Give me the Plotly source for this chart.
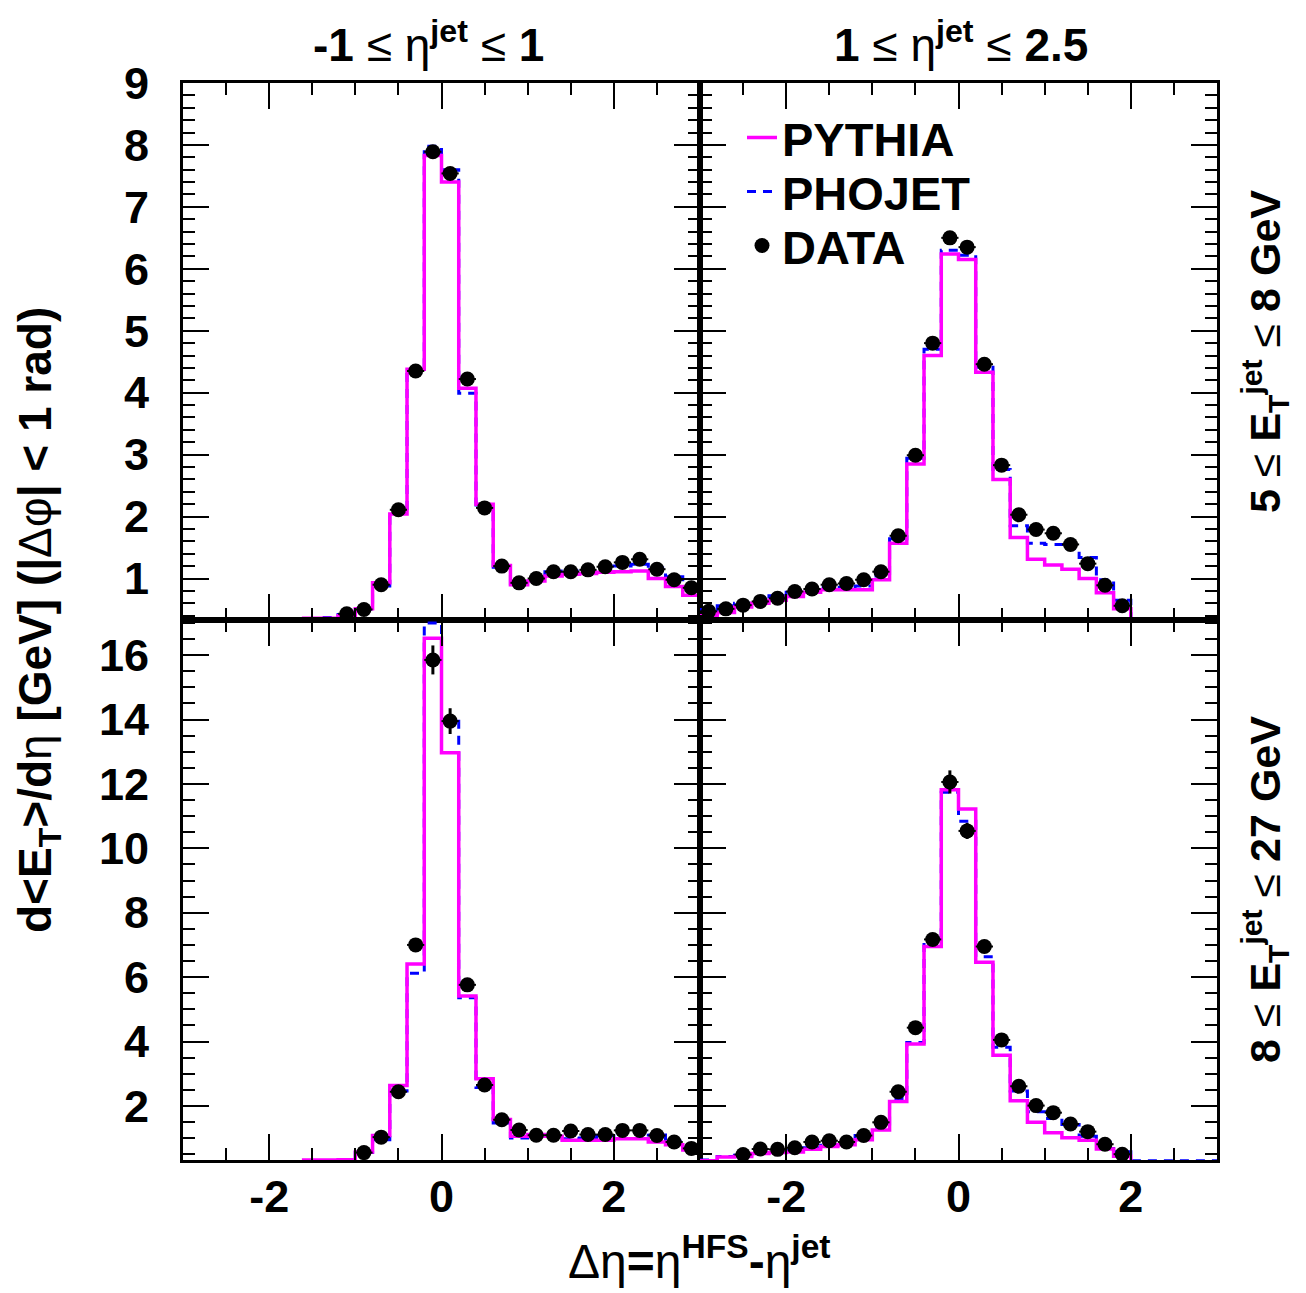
import numpy as np
import plotly.graph_objects as go

# ---------------- data ----------------
# bin edges (30 bins of width 0.2 from -3 to 3) and bin centres
edges = [round(-3.0 + 0.2 * i, 1) for i in range(31)]
centers = [round(-2.9 + 0.2 * i, 1) for i in range(30)]

# top-left: -1 <= eta_jet <= 1, 5 <= ET <= 8 GeV
pythia_tl = [0.3, 0.3, 0.3, 0.3, 0.3, 0.3, 0.3, 0.36, 0.36, 0.40, 0.51, 0.93, 2.04, 4.38, 7.83,
             7.40, 4.07, 2.20, 1.21, 0.90, 0.96, 1.04, 1.07, 1.08, 1.10, 1.11, 1.12, 1.00, 0.87, 0.73]
phojet_tl = [0.3, 0.3, 0.3, 0.3, 0.3, 0.3, 0.3, 0.35, 0.37, 0.42, 0.50, 0.88, 2.08, 4.35, 7.98,
             7.60, 3.99, 2.10, 1.18, 0.92, 0.98, 1.11, 1.12, 1.14, 1.15, 1.20, 1.23, 1.17, 1.03, 0.85]
data_tl = [None, None, None, None, None, None, None, None, None, 0.43, 0.50, 0.90, 2.11, 4.35, 7.89,
           7.54, 4.22, 2.14, 1.20, 0.93, 1.00, 1.11, 1.11, 1.14, 1.19, 1.26, 1.31, 1.15, 0.98, 0.85]
err_tl = [0, 0, 0, 0, 0, 0, 0, 0, 0, 0.03, 0.03, 0.04, 0.05, 0.07, 0.10,
          0.09, 0.07, 0.05, 0.04, 0.03, 0.03, 0.03, 0.03, 0.03, 0.03, 0.04, 0.04, 0.04, 0.03, 0.03]

# top-right: 1 <= eta_jet <= 2.5, 5 <= ET <= 8 GeV
pythia_tr = [0.40, 0.45, 0.54, 0.60, 0.65, 0.71, 0.78, 0.82, 0.82, 0.82, 0.98, 1.57, 2.85, 4.60, 6.24,
             6.15, 4.33, 2.60, 1.66, 1.31, 1.22, 1.15, 1.00, 0.77, 0.51, 0.3, 0.3, 0.3, 0.3, 0.3]
phojet_tr = [0.50, 0.56, 0.60, 0.66, 0.72, 0.78, 0.82, 0.86, 0.86, 0.88, 1.04, 1.64, 2.94, 4.70, 6.30,
             6.22, 4.41, 2.76, 1.85, 1.57, 1.55, 1.48, 1.34, 0.98, 0.65, 0.3, 0.3, 0.3, 0.3, 0.3]
data_tr = [0.47, 0.51, 0.57, 0.63, 0.68, 0.79, 0.83, 0.90, 0.92, 0.98, 1.11, 1.69, 2.99, 4.80, 6.50,
           6.35, 4.46, 2.83, 2.03, 1.79, 1.73, 1.55, 1.24, 0.89, 0.56, None, None, None, None, None]
err_tr = [0.03, 0.03, 0.03, 0.03, 0.03, 0.03, 0.03, 0.03, 0.03, 0.03, 0.04, 0.05, 0.06, 0.08, 0.10,
          0.10, 0.08, 0.06, 0.05, 0.05, 0.05, 0.05, 0.04, 0.04, 0.04, 0, 0, 0, 0, 0]

# bottom-left: -1 <= eta_jet <= 1, 8 <= ET <= 27 GeV
pythia_bl = [0.25, 0.25, 0.25, 0.25, 0.25, 0.25, 0.25, 0.32, 0.32, 0.33, 0.57, 1.08, 2.63, 6.41, 16.52,
             12.97, 5.41, 2.84, 1.58, 1.06, 1.11, 1.06, 0.93, 0.93, 0.93, 0.98, 0.98, 0.88, 0.79, 0.63]
phojet_bl = [0.25, 0.25, 0.25, 0.25, 0.25, 0.25, 0.25, 0.30, 0.30, 0.33, 0.55, 0.95, 2.46, 6.12, 17.0,
             14.0, 5.36, 2.57, 1.47, 1.00, 1.05, 1.10, 0.98, 1.00, 1.08, 1.18, 1.20, 1.10, 0.90, 0.70]
data_bl = [None, None, None, None, None, None, None, None, None, None, 0.55, 1.03, 2.44, 7.00, 15.85,
           13.95, 5.76, 2.65, 1.57, 1.25, 1.09, 1.09, 1.22, 1.11, 1.11, 1.24, 1.24, 1.08, 0.88, 0.68]
err_bl = [0, 0, 0, 0, 0, 0, 0, 0, 0, 0, 0.05, 0.08, 0.12, 0.20, 0.45,
          0.40, 0.15, 0.10, 0.08, 0.07, 0.07, 0.07, 0.07, 0.07, 0.07, 0.07, 0.07, 0.07, 0.06, 0.06]

# bottom-right: 1 <= eta_jet <= 2.5, 8 <= ET <= 27 GeV
pythia_br = [0.30, 0.41, 0.43, 0.52, 0.55, 0.57, 0.65, 0.74, 0.79, 0.95, 1.25, 2.14, 3.92, 6.95, 11.82,
             11.22, 6.46, 3.57, 2.16, 1.49, 1.17, 1.01, 0.93, 0.66, 0.44, 0.25, 0.25, 0.25, 0.25, 0.25]
phojet_br = [0.32, 0.43, 0.47, 0.56, 0.58, 0.61, 0.70, 0.78, 0.84, 1.08, 1.33, 2.23, 3.97, 7.11, 11.74,
             10.84, 6.63, 3.82, 2.46, 1.82, 1.61, 1.42, 1.06, 0.88, 0.58, 0.30, 0.30, 0.30, 0.30, 0.30]
data_br = [None, None, 0.49, 0.66, 0.65, 0.70, 0.88, 0.92, 0.88, 1.08, 1.49, 2.44, 4.43, 7.17, 12.06,
           10.54, 6.95, 4.05, 2.61, 2.01, 1.79, 1.44, 1.20, 0.81, 0.50, None, None, None, None, None]
err_br = [0, 0, 0.05, 0.05, 0.05, 0.05, 0.06, 0.06, 0.06, 0.07, 0.08, 0.10, 0.14, 0.20, 0.36,
          0.25, 0.15, 0.10, 0.08, 0.07, 0.07, 0.06, 0.06, 0.05, 0.05, 0, 0, 0, 0, 0]

x_ticks = [-2, 0, 2]
y_top_ticks = [1, 2, 3, 4, 5, 6, 7, 8, 9]
y_bot_ticks = [2, 4, 6, 8, 10, 12, 14, 16]

# ---------------- style ----------------
PINK = "#ff00ff"
BLUE = "#0000ff"
FONT = "Liberation Sans"
W, H = 1306, 1293
OFF = 8  # default page body margin


def px(xp):
    return (xp - OFF) / W


def py(yp):
    return 1 - (yp - OFF) / H


fig = go.Figure()

panels = [
    ("x", "y", pythia_tl, phojet_tl, data_tl, err_tl),
    ("x2", "y2", pythia_tr, phojet_tr, data_tr, err_tr),
    ("x3", "y3", pythia_bl, phojet_bl, data_bl, err_bl),
    ("x4", "y4", pythia_br, phojet_br, data_br, err_br),
]

for i, (xa, ya, pyt, phj, dt, er) in enumerate(panels):
    show = (i == 1)
    fig.add_trace(go.Scatter(
        x=edges, y=phj + [phj[-1]], mode="lines", line_shape="hv",
        line=dict(color=BLUE, width=3, dash="9px,7px"),
        name="PHOJET", legend="legend2", showlegend=show, xaxis=xa, yaxis=ya))
    fig.add_trace(go.Scatter(
        x=edges, y=pyt + [pyt[-1]], mode="lines", line_shape="hv",
        line=dict(color=PINK, width=3.5),
        name="PYTHIA", legend="legend", showlegend=show, xaxis=xa, yaxis=ya))
    fig.add_trace(go.Scatter(
        x=centers, y=dt, mode="markers",
        marker=dict(color="black", size=15, symbol="circle"),
        error_y=dict(type="data", array=er, visible=True, color="black", thickness=3, width=0),
        error_x=dict(type="constant", value=0.1, visible=True, color="black", thickness=2, width=0),
        name="DATA", legend="legend3", showlegend=show, xaxis=xa, yaxis=ya))

xl = [px(183), px(700)]
xr = [px(700), px(1217)]
yt = [py(620), py(83)]
yb = [py(1160), py(620)]

tickfont = dict(family=FONT, size=45, color="black", weight="bold")


def xaxis(domain, anchor, labels):
    return dict(domain=domain, anchor=anchor, range=[-3, 3], automargin=False,
                showline=True, linewidth=3, linecolor="black", mirror="allticks",
                ticks="inside", ticklen=26, tickwidth=1.5, tickcolor="black",
                tickvals=x_ticks, ticktext=[str(v) for v in x_ticks],
                showticklabels=labels, tickfont=tickfont, ticklabelstandoff=-5,
                minor=dict(ticks="inside", ticklen=12, tickwidth=1.5, tickcolor="black", dtick=0.5, tick0=0),
                showgrid=False, zeroline=False)


def yaxis(domain, anchor, rng, vals, minor_dt, labels):
    return dict(domain=domain, anchor=anchor, range=rng, automargin=False,
                showline=True, linewidth=3, linecolor="black", mirror="allticks",
                ticks="inside", ticklen=26, tickwidth=1.5, tickcolor="black",
                tickvals=vals, ticktext=[str(v) for v in vals],
                showticklabels=labels, tickfont=tickfont, ticklabelstandoff=22,
                minor=dict(ticks="inside", ticklen=12, tickwidth=1.5, tickcolor="black", dtick=minor_dt, tick0=0),
                showgrid=False, zeroline=False)


leg_font = dict(family=FONT, size=47, color="black", weight="bold")


def legend_at(yp):
    return dict(x=px(742), y=py(yp), xanchor="left", yanchor="middle",
                bgcolor="rgba(0,0,0,0)", itemwidth=30, font=leg_font)


fig.update_layout(
    width=W, height=H,
    margin=dict(l=0, r=0, t=0, b=0, autoexpand=False),
    paper_bgcolor="white", plot_bgcolor="white",
    xaxis=xaxis(xl, "y", False),
    xaxis2=xaxis(xr, "y2", False),
    xaxis3=xaxis(xl, "y3", True),
    xaxis4=xaxis(xr, "y4", True),
    yaxis=yaxis(yt, "x", [0.33, 9.0], y_top_ticks, 0.2, True),
    yaxis2=yaxis(yt, "x2", [0.33, 9.0], y_top_ticks, 0.2, False),
    yaxis3=yaxis(yb, "x3", [0.32, 17.09], y_bot_ticks, 0.5, True),
    yaxis4=yaxis(yb, "x4", [0.32, 17.09], y_bot_ticks, 0.5, False),
    legend=legend_at(138),
    legend2=legend_at(192),
    legend3=legend_at(246),
    showlegend=True,
)

ann_font = dict(family=FONT, size=46, color="black")
side_font = dict(family=FONT, size=43, color="black")
annotations = [
    dict(text="<b>-1</b> ≤ η<sup><b>jet</b></sup> ≤ <b>1</b>", x=px(428), y=py(42)),
    dict(text="<b>1</b> ≤ η<sup><b>jet</b></sup> ≤ <b>2.5</b>", x=px(961), y=py(42)),
    dict(text="<b>5</b> ≤ <b>E</b><sub><b>T</b></sub><sup><b>jet</b></sup> ≤ <b>8 GeV</b>",
         x=px(1265), y=py(352), textangle=-90, font=side_font),
    dict(text="<b>8</b> ≤ <b>E</b><sub><b>T</b></sub><sup><b>jet</b></sup> ≤ <b>27 GeV</b>",
         x=px(1265), y=py(890), textangle=-90, font=side_font),
    dict(text="<b>d&lt;E</b><sub><b>T</b></sub><b>&gt;/d</b>η <b>[GeV] (|</b>Δφ<b>| &lt; 1 rad)</b>",
         x=px(39), y=py(620), textangle=-90),
    dict(text="Δη<b>=</b>η<sup><b>HFS</b></sup><b>-</b>η<sup><b>jet</b></sup>",
         x=px(699), y=py(1258), font=dict(family=FONT, size=48, color="black")),
]
for a in annotations:
    a.setdefault("font", ann_font)
    fig.add_annotation(xref="paper", yref="paper", showarrow=False,
                       xanchor="center", yanchor="middle", **a)

fig.write_html("out.html")
